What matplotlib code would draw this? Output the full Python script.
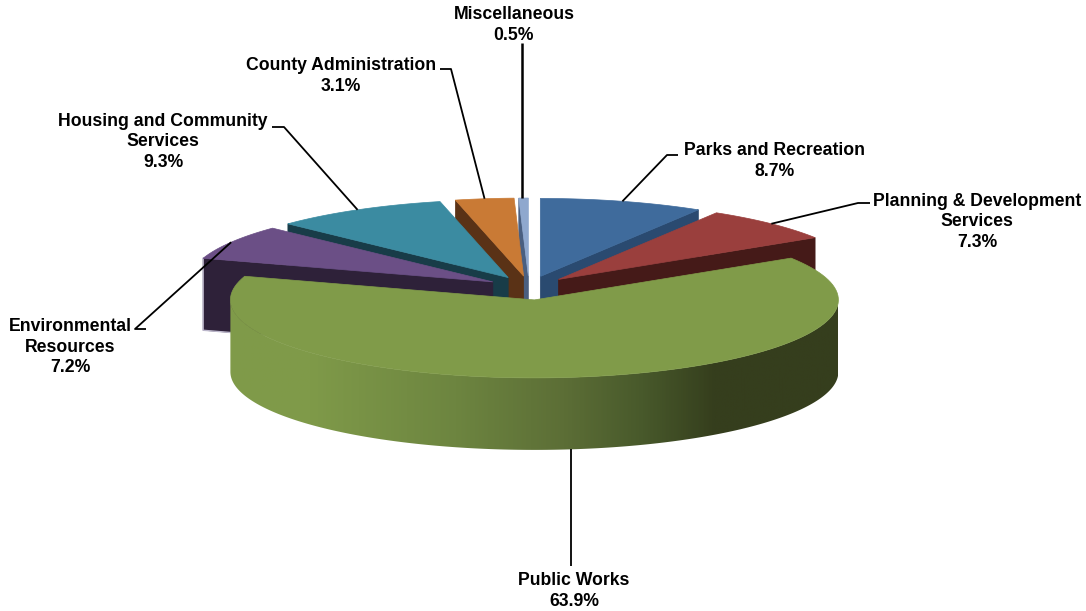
import numpy as np
import matplotlib
matplotlib.use("Agg")
import matplotlib.pyplot as plt
from matplotlib.colors import LinearSegmentedColormap
from matplotlib.patches import Polygon

plt.rcParams['font.family'] = ['Liberation Sans', 'DejaVu Sans']

# clockwise from twelve o'clock
categorias = ['Parks and Recreation', 'Planning & Development\nServices', 'Public Works',
              'Environmental\nResources', 'Housing and Community\nServices', 'County Administration',
              'Miscellaneous']
porcentajes = [8.7, 7.3, 63.9, 7.2, 9.3, 3.1, 0.5]
colores_arriba = ['#3F6B9C', '#9A3F3D', '#809B49', '#6B4F86', '#3B8BA1', '#C97A35', '#8FA8CE']
colores_lado = ['#2A4A70', '#451A18', '#363E1D', '#2E2139', '#183C48', '#5A3216', '#4A5F80']

# anchor of each label: where its text block sits and where the leader leaves it
pos_texto = [(775, 161), (977, 222), (574, 591), (70, 347), (163, 142), (341, 76), (514, 25)]
codo_lider = [[(678, 155), (667, 155)], [(870, 203), (858, 203)], [(571, 566)],
              [(146, 329), (135, 329)], [(272, 127), (284, 127)], [(440, 69), (451, 69)], [(522, 43)]]

# pie geometry in pixels
CX, CY = 529, 288
RX, RY = 304, 78
ALTO = 72
EXP_X, EXP_Y = 42, 12


def punto_borde(vertice, grados):
    t = np.radians(grados)
    return vertice[0] + RX * np.sin(t), vertice[1] - RY * np.cos(t)


def cara_corte(vertice, grados):
    x, y = punto_borde(vertice, grados)
    return [vertice, (x, y), (x, y + ALTO), (vertice[0], vertice[1] + ALTO)]


fig = plt.figure(figsize=(10.86, 6.11), dpi=100)
ax = fig.add_axes([0, 0, 1, 1])

acum = np.cumsum([0] + porcentajes) * 3.6
inicios, finales = acum[:-1], acum[1:]
medios = (inicios + finales) / 2
vertices = [(CX + EXP_X * np.sin(np.radians(m)), CY - EXP_Y * np.cos(np.radians(m))) for m in medios]

# back slices first, the big front slice last
orden = [6, 5, 4, 3, 0, 1, 2]
for i in orden:
    v = vertices[i]
    if i == 0 or i == 1:
        # cut face on the clockwise side looks towards the viewer
        ax.add_patch(Polygon(cara_corte(v, finales[i]), fc=colores_lado[i], ec=colores_lado[i], lw=0.5, zorder=2))
    elif i != 2:
        cara = cara_corte(v, inicios[i])
        ax.add_patch(Polygon(cara, fc=colores_lado[i], ec=colores_lado[i], lw=0.5, zorder=2))
        if i == 3:
            # pale fringe round the dark purple wall
            ax.plot([cara[1][0], cara[2][0], cara[3][0]], [cara[1][1], cara[2][1], cara[3][1]],
                    color='#BDB8CC', lw=1.0, zorder=2)

    if i == 2:
        # round outer wall with a horizontal shading
        t = np.linspace(90, 270, 200)
        xb, yb = punto_borde(v, t)
        pared = np.column_stack([np.r_[xb, xb[::-1]], np.r_[yb, yb[::-1] + ALTO]])
        parche = Polygon(pared, fc='none', ec='none', zorder=2)
        ax.add_patch(parche)
        degradado = LinearSegmentedColormap.from_list('pared', [
            (0.0, '#809B49'), (0.13, '#7F9A49'), (0.37, '#6D8540'), (0.55, '#5C6E36'),
            (0.68, '#48592B'), (0.80, '#353E1D'), (1.0, '#363E1D')])
        img = ax.imshow(np.linspace(0, 1, 400).reshape(1, -1), cmap=degradado, aspect='auto',
                        extent=(v[0] - RX, v[0] + RX, v[1] + RY + ALTO, v[1] - RY), zorder=2)
        img.set_clip_path(parche)

    t = np.linspace(inicios[i], finales[i], 120)
    xb, yb = punto_borde(v, t)
    tapa = np.column_stack([np.r_[v[0], xb], np.r_[v[1], yb]])
    ax.add_patch(Polygon(tapa, fc=colores_arriba[i], ec=colores_arriba[i], lw=0.5, zorder=2))

# leaders and labels
for i in range(len(categorias)):
    x, y = punto_borde(vertices[i], medios[i])
    if i == 2:
        y = y + ALTO
    tramo = codo_lider[i] + [(x, y)]
    if len(codo_lider[i]) == 1:
        tramo = [codo_lider[i][0], (codo_lider[i][0][0], y)]
    ax.plot([p[0] for p in tramo], [p[1] for p in tramo], color='black',
            lw=1.8 if i == 6 else 1.3, solid_capstyle='butt', zorder=3)
    ax.text(pos_texto[i][0], pos_texto[i][1], f"{categorias[i]}\n{porcentajes[i]}%", ha='center', va='center',
            fontsize=12.7, fontweight='bold', linespacing=1.28, color='black', zorder=4)

ax.set_xlim(0, 1086)
ax.set_ylim(611, 0)
ax.axis('off')
fig.savefig('out.png', dpi=100, facecolor='white')
